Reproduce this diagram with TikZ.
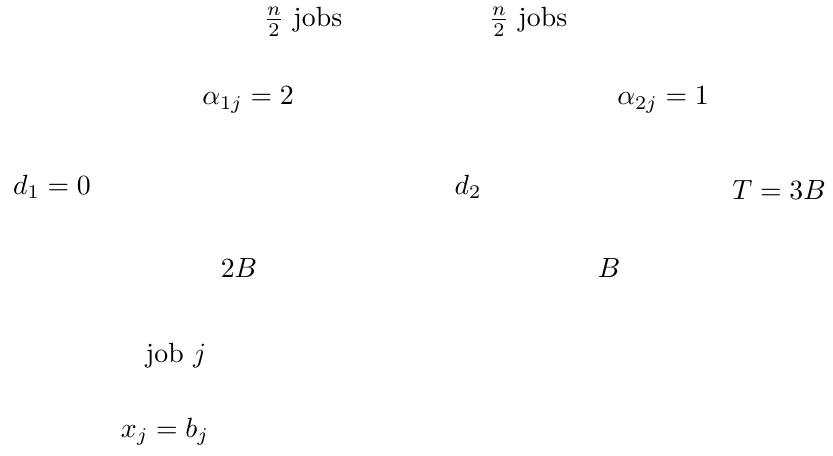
\documentclass[tikz,border=0pt]{standalone}
\begin{document}
\begin{tikzpicture}[x=0.36pt,y=-0.36pt,lbl/.style={inner sep=0pt,anchor=center}]
\useasboundingbox (0,0) rectangle (833,455);
\node[lbl] (jobsA) at (303,22) {$\frac{n}{2}$ jobs};
\node[lbl] (jobsB) at (528,22) {$\frac{n}{2}$ jobs};
\node[lbl] (a1) at (248,100) {$\alpha_{1j}=2$};
\node[lbl] (a2) at (663,100) {$\alpha_{2j}=1$};
\node[lbl] (d1) at (52,187) {$d_1=0$};
\node[lbl] (d2) at (468,187) {$d_2$};
\node[lbl] (T) at (779,190) {$T=3B$};
\node[lbl] (twoB) at (239,268) {$2B$};
\node[lbl] (B) at (609,268) {$B$};
\node[lbl] (job) at (176,356) {job $j$};
\node[lbl] (x) at (165,432) {$x_j=b_j$};
\end{tikzpicture}
\end{document}
